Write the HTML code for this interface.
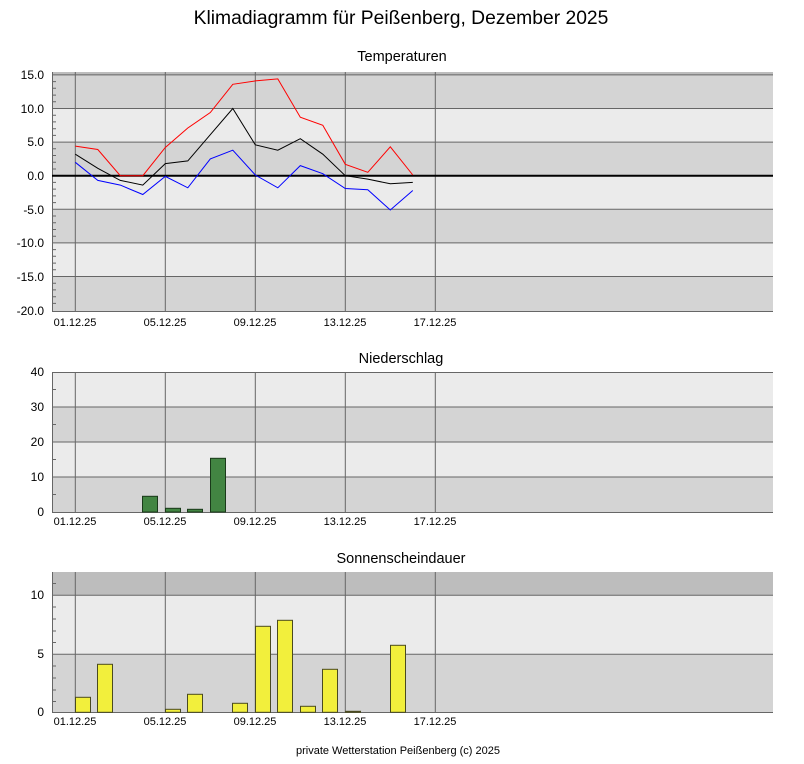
<!DOCTYPE html>
<html><head><meta charset="utf-8"><style>
html,body{margin:0;padding:0;background:#fff}
svg{display:block;font-family:"Liberation Sans",sans-serif}
</style></head><body>
<svg id="s" width="804" height="764" viewBox="0 0 804 764" xmlns="http://www.w3.org/2000/svg">
<text x="401" y="24" font-size="19.3" text-anchor="middle">Klimadiagramm für Peißenberg, Dezember 2025</text>
<text x="402" y="61" font-size="14.5" text-anchor="middle">Temperaturen</text>
<text x="401" y="363" font-size="14.5" text-anchor="middle">Niederschlag</text>
<text x="401" y="563" font-size="14.5" text-anchor="middle">Sonnenscheindauer</text>
<text x="398" y="754" font-size="11" text-anchor="middle">private Wetterstation Peißenberg (c) 2025</text>

<rect x="52" y="72" width="721" height="3" fill="#bdbdbd"/>
<rect x="52" y="74.9" width="721" height="33.6" fill="#d4d4d4"/>
<rect x="52" y="108.5" width="721" height="33.6" fill="#ebebeb"/>
<rect x="52" y="142.1" width="721" height="33.6" fill="#d4d4d4"/>
<rect x="52" y="175.7" width="721" height="33.6" fill="#ebebeb"/>
<rect x="52" y="209.3" width="721" height="33.6" fill="#d4d4d4"/>
<rect x="52" y="242.9" width="721" height="33.6" fill="#ebebeb"/>
<rect x="52" y="276.5" width="721" height="35" fill="#d4d4d4"/>
<g stroke="#666" stroke-width="1" fill="none">
<path d="M52 74.9H773M52 108.5H773M52 142.1H773M52 209.3H773M52 242.9H773M52 276.5H773"/>
<path d="M75.3 72V311M165.3 72V311M255.3 72V311M345.3 72V311M435.3 72V311"/>
<path d="M52.5 72V311.5H773"/>
</g>
<g id="tt" stroke="#666" fill="none"></g>
<path d="M52 175.7H773" stroke="#000" stroke-width="2"/>
<g font-size="12" text-anchor="end">
<text x="44" y="79">15.0</text><text x="44" y="113">10.0</text><text x="44" y="146">5.0</text><text x="44" y="180">0.0</text>
<text x="44" y="214">-5.0</text><text x="44" y="247">-10.0</text><text x="44" y="281">-15.0</text><text x="44" y="315">-20.0</text>
</g>
<g font-size="11" text-anchor="middle">
<text x="75" y="326">01.12.25</text><text x="165" y="326">05.12.25</text><text x="255" y="326">09.12.25</text><text x="345" y="326">13.12.25</text><text x="435" y="326">17.12.25</text>
</g>
<g fill="none" stroke-width="1">
<polyline stroke="#f00" points="75.3,146.1 97.8,149.5 120.3,175.7 142.8,175.7 165.3,147.5 187.8,128 210.3,112.5 232.8,84.3 255.3,80.9 277.8,78.9 300.3,117.2 322.8,125.3 345.3,164.3 367.8,172.3 390.3,146.8 412.8,175"/>
<polyline stroke="#000" points="75.3,154.2 97.8,168.3 120.3,180.4 142.8,185.1 165.3,163.6 187.8,160.9 210.3,134.7 232.8,108.5 255.3,144.8 277.8,150.2 300.3,138.7 322.8,154.2 345.3,175.7 367.8,179.1 390.3,183.8 412.8,182.4"/>
<polyline stroke="#00f" points="75.3,162.3 97.8,180.4 120.3,185.1 142.8,194.5 165.3,176.4 187.8,187.8 210.3,158.9 232.8,150.2 255.3,175 277.8,187.8 300.3,165.6 322.8,173.7 345.3,188.5 367.8,189.8 390.3,210 412.8,190.5"/>
</g>

<rect x="52" y="372" width="721" height="35" fill="#ebebeb"/>
<rect x="52" y="407" width="721" height="35" fill="#d4d4d4"/>
<rect x="52" y="442" width="721" height="35" fill="#ebebeb"/>
<rect x="52" y="477" width="721" height="35" fill="#d4d4d4"/>
<g stroke="#666" fill="none">
<path d="M52 372.5H773M52 407H773M52 442H773M52 477H773"/>
<path d="M75.3 372V512M165.3 372V512M255.3 372V512M345.3 372V512M435.3 372V512"/>
<path d="M52.5 372V512.5H773"/>
<path d="M52 389.5h4M52 424.5h4M52 459.5h4M52 494.5h4"/>
</g>
<g fill="#428542" stroke="#1a3a1a">
<rect x="142.5" y="496.3" width="15" height="15.7"/>
<rect x="165.5" y="508.3" width="15" height="3.7"/>
<rect x="187.5" y="509.3" width="15" height="2.7"/>
<rect x="210.5" y="458.3" width="15" height="53.7"/>
</g>
<g font-size="12" text-anchor="end">
<text x="44" y="376">40</text><text x="44" y="411">30</text><text x="44" y="446">20</text><text x="44" y="481">10</text><text x="44" y="516">0</text>
</g>
<g font-size="11" text-anchor="middle">
<text x="75" y="525">01.12.25</text><text x="165" y="525">05.12.25</text><text x="255" y="525">09.12.25</text><text x="345" y="525">13.12.25</text><text x="435" y="525">17.12.25</text>
</g>

<rect x="52" y="572" width="721" height="23.3" fill="#bdbdbd"/>
<rect x="52" y="595.3" width="721" height="59" fill="#ebebeb"/>
<rect x="52" y="654.3" width="721" height="58" fill="#d4d4d4"/>
<g stroke="#666" fill="none">
<path d="M52 595.3H773M52 654.3H773"/>
<path d="M75.3 572V712M165.3 572V712M255.3 572V712M345.3 572V712M435.3 572V712"/>
<path d="M52.5 572V712.5H773"/>
<path d="M52 583.5h4M52 607h4M52 619h4M52 631h4M52 642.5h4M52 666h4M52 678h4M52 690h4M52 701.5h4"/>
</g>
<g fill="#f2ef3c" stroke="#4a4a20">
<rect x="75.5" y="697.3" width="15" height="15"/>
<rect x="97.5" y="664.3" width="15" height="48"/>
<rect x="165.5" y="709.3" width="15" height="3"/>
<rect x="187.5" y="694.3" width="15" height="18"/>
<rect x="232.5" y="703.3" width="15" height="9"/>
<rect x="255.5" y="626.3" width="15" height="86"/>
<rect x="277.5" y="620.3" width="15" height="92"/>
<rect x="300.5" y="706.3" width="15" height="6"/>
<rect x="322.5" y="669.3" width="15" height="43"/>
<rect x="345.5" y="711.3" width="15" height="1"/>
<rect x="390.5" y="645.3" width="15" height="67"/>
</g>
<g font-size="12" text-anchor="end">
<text x="44" y="599">10</text><text x="44" y="658">5</text><text x="44" y="716">0</text>
</g>
<g font-size="11" text-anchor="middle">
<text x="75" y="725">01.12.25</text><text x="165" y="725">05.12.25</text><text x="255" y="725">09.12.25</text><text x="345" y="725">13.12.25</text><text x="435" y="725">17.12.25</text>
</g>
</svg>
<script>
var g=document.getElementById('tt'),d='';
for(var v=-19;v<=15;v++){if(v%5==0)continue;var y=175.7-6.72*v;d+='M52 '+y.toFixed(1)+'h4';}
var p=document.createElementNS('http://www.w3.org/2000/svg','path');p.setAttribute('d',d);g.appendChild(p);
</script>
</body></html>
